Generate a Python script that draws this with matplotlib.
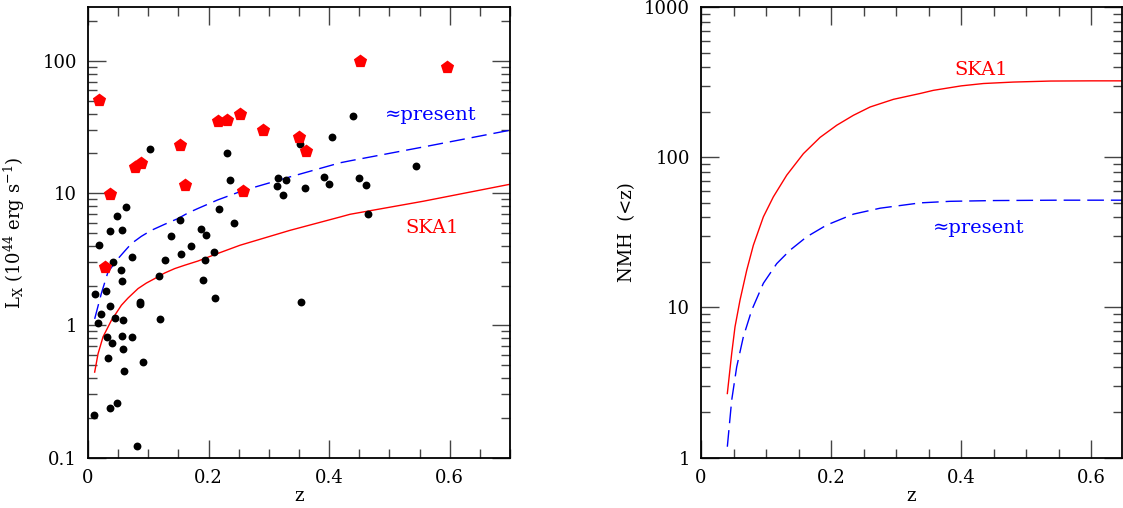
import numpy as np
import matplotlib
matplotlib.use("Agg")
import matplotlib.pyplot as plt
from matplotlib.ticker import MultipleLocator, LogLocator, FuncFormatter, NullFormatter

# clusters: black dots (z, Lx in 1e44 erg/s)
dots_z = [0.1028, 0.230, 0.2355, 0.2167, 0.242, 0.1874, 0.1957, 0.1376, 0.1531, 0.036,
          0.048, 0.0564, 0.063, 0.3146, 0.3134, 0.3284, 0.324, 0.3516, 0.440, 0.4046,
          0.5445, 0.360, 0.391, 0.399, 0.450, 0.461, 0.464, 0.0182, 0.042, 0.0724,
          0.0553, 0.0559, 0.0111, 0.0293, 0.0365, 0.0221, 0.0171, 0.0448, 0.058, 0.031,
          0.0564, 0.073, 0.0403, 0.0575, 0.0337, 0.0592, 0.0917, 0.0862, 0.0862, 0.119,
          0.1177, 0.128, 0.154, 0.171, 0.1945, 0.2085, 0.190, 0.2106, 0.3527, 0.0094,
          0.036, 0.048, 0.0818]
dots_L = [21.7, 20.1, 12.7, 7.66, 6.0, 5.4, 4.83, 4.78, 6.25, 5.15,
          6.78, 5.31, 7.83, 13.1, 11.4, 12.5, 9.66, 23.5, 38.3, 26.6,
          16.0, 10.97, 13.2, 11.7, 13.0, 11.6, 7.0, 4.04, 3.02, 3.29,
          2.62, 2.17, 1.74, 1.81, 1.41, 1.23, 1.05, 1.14, 1.10, 0.81,
          0.83, 0.81, 0.73, 0.66, 0.57, 0.45, 0.53, 1.51, 1.46, 1.12,
          2.38, 3.15, 3.47, 3.97, 3.11, 3.62, 2.19, 1.61, 1.49, 0.208,
          0.236, 0.258, 0.123]

# red pentagons
pent_z = [0.0187, 0.036, 0.078, 0.088, 0.152, 0.160, 0.215, 0.2305, 0.2526, 0.2897,
          0.2576, 0.3504, 0.362, 0.4506, 0.5959, 0.0282]
pent_L = [50.6, 9.8, 15.7, 16.8, 23.1, 11.6, 35.1, 35.7, 39.9, 30.0,
          10.4, 26.7, 20.9, 101, 90.5, 2.77]

# luminosity limits (left panel)
ska_z = [0.011, 0.0166, 0.0249, 0.0387, 0.0553, 0.0663, 0.083, 0.0967, 0.1106, 0.127,
         0.1437, 0.160, 0.1824, 0.215, 0.252, 0.335, 0.418, 0.4345, 0.556, 0.7]
ska_L = [0.443, 0.61, 0.82, 1.09, 1.42, 1.61, 1.90, 2.09, 2.26, 2.49,
         2.69, 2.85, 3.07, 3.5, 4.04, 5.24, 6.61, 6.93, 8.7, 11.7]
pres_z = [0.011, 0.022, 0.033, 0.0498, 0.0608, 0.0719, 0.0884, 0.105, 0.127, 0.149,
          0.166, 0.182, 0.215, 0.2576, 0.335, 0.418, 0.4345, 0.556, 0.7]
pres_L = [1.12, 1.74, 2.53, 3.2, 3.65, 4.16, 4.72, 5.24, 5.82, 6.43,
          7.1, 7.66, 8.9, 10.5, 13.3, 17.0, 17.6, 22.4, 30.0]

# cumulative numbers (right panel)
nska_z = [0.0405, 0.0472, 0.0523, 0.060, 0.0703, 0.0805, 0.0959, 0.1112, 0.1318, 0.1574,
          0.183, 0.2087, 0.2343, 0.26, 0.2958, 0.337, 0.357, 0.40, 0.434, 0.48,
          0.537, 0.60, 0.65]
nska_N = [2.67, 4.93, 7.43, 11.2, 17.7, 26.0, 40.2, 54.6, 76.2, 106,
          136, 164, 191, 217, 244, 267, 280, 300, 311, 318,
          323, 324, 324]
npres_z = [0.0405, 0.0472, 0.0549, 0.0651, 0.078, 0.0959, 0.1164, 0.1369, 0.1626, 0.193,
           0.2343, 0.2754, 0.337, 0.383, 0.45, 0.55, 0.65]
npres_N = [1.18, 2.41, 4.02, 6.37, 9.6, 14.5, 19.6, 24.1, 29.6, 35.4,
           41.9, 45.9, 49.8, 51.0, 51.6, 51.9, 51.9]

plt.rcParams['font.family'] = 'DejaVu Serif'
plt.rcParams['font.size'] = 13

fig = plt.figure(figsize=(11.23, 5.08), dpi=100)
ax1 = fig.add_axes([0.0784, 0.0994, 0.3758, 0.886])
ax2 = fig.add_axes([0.6242, 0.0994, 0.3749, 0.886])

fmt = FuncFormatter(lambda v, p: "%g" % v)

def style(ax):
    ax.set_yscale("log")
    ax.xaxis.set_major_locator(MultipleLocator(0.2))
    ax.xaxis.set_minor_locator(MultipleLocator(0.05))
    ax.yaxis.set_major_locator(LogLocator(base=10))
    ax.yaxis.set_minor_locator(LogLocator(base=10, subs=np.arange(2, 10)))
    ax.yaxis.set_major_formatter(fmt)
    ax.yaxis.set_minor_formatter(NullFormatter())
    ax.xaxis.set_major_formatter(fmt)
    ax.tick_params(which="both", direction="in", top=True, right=True, width=1.0, color="#444444")
    ax.tick_params(which="major", length=13, pad=8, labelsize=13)
    ax.tick_params(which="minor", length=6.5)
    for s in ax.spines.values():
        s.set_linewidth(1.3)

# left panel
ax1.plot(ska_z, ska_L, color="red", lw=1.0)
ax1.plot(pres_z, pres_L, color="blue", lw=1.0, dashes=(11, 5))
ax1.scatter(dots_z, dots_L, s=32, color="black", zorder=3, linewidths=0)
ax1.scatter(pent_z, pent_L, s=100, marker="p", color="red", zorder=4, linewidths=0)
ax1.set_xlim(0, 0.7)
ax1.set_ylim(0.1, 255)
style(ax1)
ax1.text(0.4925, 39, "≈present", color="blue", fontsize=14, va="center")
ax1.text(0.526, 5.5, "SKA1", color="red", fontsize=14, va="center")
ax1.set_xlabel("z", labelpad=0)
ax1.set_ylabel(r"L$_\mathregular{X}$ (10$^\mathregular{44}$ erg s$^\mathregular{-1}$)")
ax1.yaxis.set_label_coords(-0.1445, 0.5)

# right panel
ax2.plot(nska_z, nska_N, color="red", lw=1.0)
ax2.plot(npres_z, npres_N, color="blue", lw=1.0, dashes=(12, 5))
ax2.set_xlim(0, 0.647)
ax2.set_ylim(1, 1000)
style(ax2)
ax2.text(0.389, 382, "SKA1", color="red", fontsize=14, va="center")
ax2.text(0.357, 34, "≈present", color="blue", fontsize=14, va="center")
ax2.set_xlabel("z", labelpad=0)
ax2.set_ylabel("NMH  (<z)")
ax2.yaxis.set_label_coords(-0.154, 0.5)

fig.savefig("out.png", dpi=100)
